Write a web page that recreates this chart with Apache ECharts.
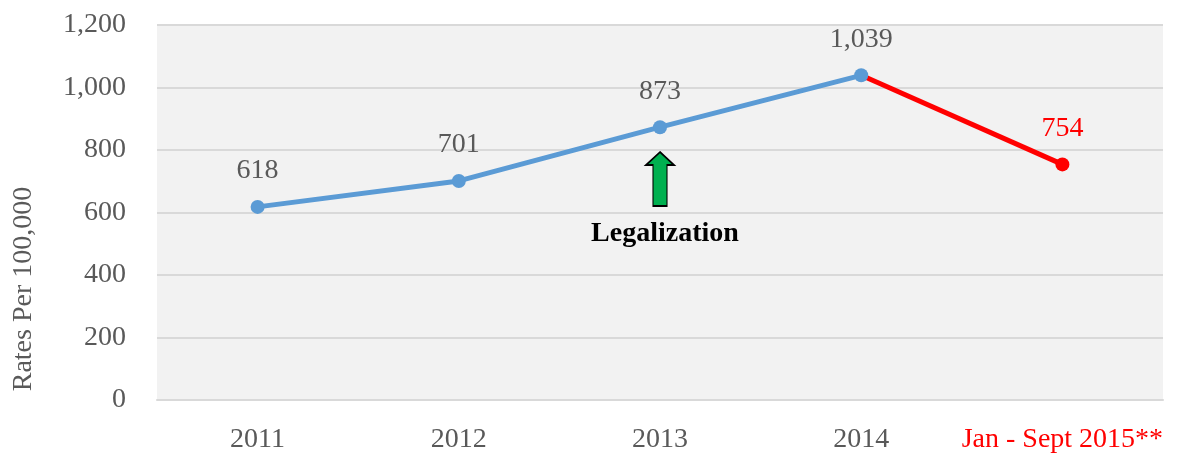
<!DOCTYPE html>
<html>
<head>
<meta charset="utf-8">
<script src="https://cdn.jsdelivr.net/npm/echarts@6/dist/echarts.min.js"></script>
<style>
  html, body { margin: 0; padding: 0; background: #fff; }
  #chart { width: 1180px; height: 457px; }
</style>
</head>
<body>
<div id="chart"></div>
<script>
const categories = ["2011", "2012", "2013", "2014", "Jan - Sept 2015**"];
const ratesBefore = [618, 701, 873, 1039, "-"];
const ratesPartial = ["-", "-", "-", 1039, 754];
const yTicks = { min: 0, max: 1200, interval: 200 };
const legalization = { category: "2013", value: 707, text: "Legalization" };

const FONT = "Liberation Serif";
const SIZE = 28;
const fmt = (v) => Number(v).toLocaleString("en-US");

// Block arrow pointing up, 28 x 54 units
const arrowPath = "path://M14,0 L28,13 L21,13 L21,54 L7,54 L7,13 L0,13 Z";

const chart = echarts.init(document.getElementById("chart"), null, { renderer: "canvas" });

chart.setOption({
  animation: false,
  grid: {
    left: 157,
    right: 17,
    top: 25,
    bottom: 57,
    show: true,
    backgroundColor: "#f2f2f2",
    borderWidth: 0,
  },
  graphic: [
    {
      type: "text",
      x: 24,
      y: 289,
      rotation: Math.PI / 2,
      style: {
        text: "Rates Per 100,000",
        fontFamily: FONT,
        fontSize: SIZE,
        fill: "#595959",
        textAlign: "center",
        textVerticalAlign: "middle",
      },
    },
  ],
  xAxis: {
    type: "category",
    data: categories,
    boundaryGap: true,
    axisLine: { lineStyle: { color: "#d9d9d9", width: 2 } },
    axisTick: { show: false },
    axisLabel: {
      interval: 0,
      margin: 26,
      fontFamily: FONT,
      fontSize: SIZE,
      color: (value) => (value === categories[categories.length - 1] ? "#ff0000" : "#595959"),
    },
  },
  yAxis: {
    type: "value",
    min: yTicks.min,
    max: yTicks.max,
    interval: yTicks.interval,
    axisLine: { show: false },
    axisTick: { show: false },
    splitLine: { lineStyle: { color: "#d9d9d9", width: 2 } },
    axisLabel: {
      margin: 31,
      fontFamily: FONT,
      fontSize: SIZE,
      color: "#595959",
      formatter: fmt,
    },
  },
  series: [
    {
      name: "partial",
      type: "line",
      data: ratesPartial.map((v, i) => (i === 3 ? { value: v, symbol: "none", label: { show: false } } : v)),
      z: 2,
      symbol: "circle",
      symbolSize: 14,
      lineStyle: { color: "#ff0000", width: 5 },
      itemStyle: { color: "#ff0000" },
      label: {
        show: true,
        position: "top",
        distance: 15,
        fontFamily: FONT,
        fontSize: SIZE,
        color: "#ff0000",
        formatter: (p) => fmt(p.value),
      },
    },
    {
      name: "rates",
      type: "line",
      data: ratesBefore,
      z: 3,
      symbol: "circle",
      symbolSize: 14,
      lineStyle: { color: "#5b9bd5", width: 5 },
      itemStyle: { color: "#5b9bd5" },
      label: {
        show: true,
        position: "top",
        distance: 15,
        fontFamily: FONT,
        fontSize: SIZE,
        color: "#595959",
        formatter: (p) => fmt(p.value),
      },
      markPoint: {
        silent: true,
        data: [
          {
            coord: [legalization.category, legalization.value],
            symbol: arrowPath,
            symbolSize: [28, 54],
            itemStyle: { color: "#00b050", borderColor: "#000", borderWidth: 1.5 },
            label: {
              show: true,
              position: "bottom",
              distance: 13,
              offset: [5, 0],
              formatter: legalization.text,
              fontFamily: FONT,
              fontSize: SIZE,
              fontWeight: "bold",
              color: "#000",
            },
          },
        ],
      },
    },
  ],
});
</script>
</body>
</html>
